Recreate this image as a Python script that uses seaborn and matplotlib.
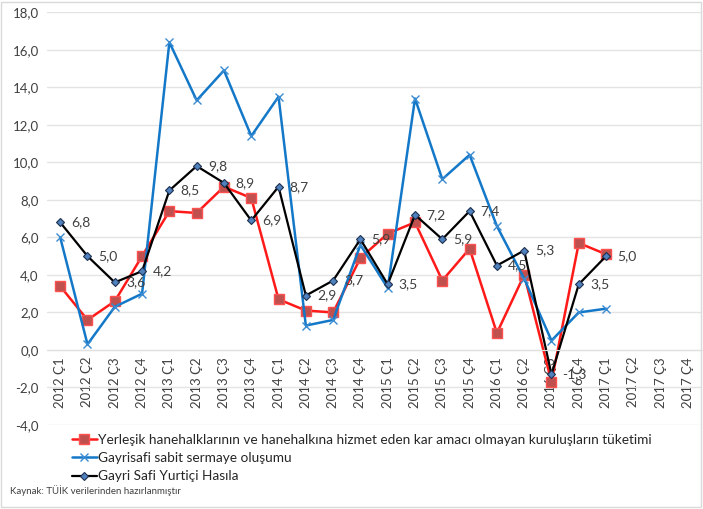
import numpy as np
import pandas as pd
import matplotlib
matplotlib.use("Agg")
import matplotlib.pyplot as plt
import seaborn as sns

# =========================
# DATA
# =========================
years = [2012, 2013, 2014, 2015, 2016, 2017]
quarter_names = ["Ç1", "Ç2", "Ç3", "Ç4"]
quarters = [f"{y} {q}" for y in years for q in quarter_names]

tuketim = [3.4, 1.6, 2.6, 5.0, 7.4, 7.3, 8.7, 8.1, 2.7, 2.1, 2.0, 4.9,
           6.2, 6.8, 3.7, 5.4, 0.9, 4.0, -1.7, 5.7, 5.1]
yatirim = [6.0, 0.3, 2.3, 3.0, 16.4, 13.3, 14.9, 11.4, 13.5, 1.3, 1.6, 5.6,
           3.3, 13.4, 9.1, 10.4, 6.6, 3.8, 0.5, 2.0, 2.2]
gsyh = [6.8, 5.0, 3.6, 4.2, 8.5, 9.8, 8.9, 6.9, 8.7, 2.9, 3.7, 5.9,
        3.5, 7.2, 5.9, 7.4, 4.5, 5.3, -1.3, 3.5, 5.0]

names = [
    "Yerleşik hanehalklarının ve hanehalkına hizmet eden kar amacı olmayan kuruluşların tüketimi",
    "Gayrisafi sabit sermaye oluşumu",
    "Gayri Safi Yurtiçi Hasıla",
]
source_text = "Kaynak: TÜİK verilerinden hazırlanmıştır"

# =========================
# STYLE
# =========================
sns.set_style("white")
plt.rcParams["font.family"] = ["Lato", "DejaVu Sans"]

fig = plt.figure(figsize=(7.03, 5.09), dpi=100)
ax = fig.add_axes([0.067, 0.165, 0.931, 0.811])

n = len(tuketim)
x = np.arange(n)

sns.lineplot(x=x, y=tuketim, ax=ax, color="#FF1A1A", lw=1.8,
             marker="s", markersize=7.5, markerfacecolor="#C0504D",
             markeredgecolor="#FF5050", markeredgewidth=1, label=names[0])
sns.lineplot(x=x, y=yatirim, ax=ax, color="#1478C8", lw=1.8,
             marker="x", markersize=6, markeredgecolor="#3C8CD2",
             markeredgewidth=1, label=names[1])
sns.lineplot(x=x, y=gsyh, ax=ax, color="black", lw=1.6,
             marker="D", markersize=4.5, markerfacecolor="#4F81BD",
             markeredgecolor="#1F3050", markeredgewidth=0.8, label=names[2])

for xi, v in zip(x, gsyh):
    ax.annotate(f"{v:.1f}".replace(".", ","), (xi, v), xytext=(8, 0),
                textcoords="offset points", ha="left", va="center",
                fontsize=10, color="#404040")

# =========================
# AXES
# =========================
ax.set_ylim(-4, 18)
ax.set_xlim(-0.48, 23.5)
yt = np.arange(-4, 18.1, 2)
ax.set_yticks(yt)
ax.set_yticklabels([f"{t:.1f}".replace(".", ",") for t in yt])
ax.set_xticks(np.arange(len(quarters)))
ax.set_xticklabels(quarters)
ax.grid(axis="y", color="#E4E4E4", lw=1)
ax.set_axisbelow(True)
for s in ["top", "right", "left"]:
    ax.spines[s].set_visible(False)
ax.spines["bottom"].set_position(("data", 0))
ax.spines["bottom"].set_color("#E0E0E0")
ax.tick_params(axis="both", length=0, labelsize=9.5, colors="#404040")
ax.tick_params(axis="x", pad=5, labelrotation=90)
ax.tick_params(axis="y", pad=6)
for lab in ax.get_xticklabels():
    lab.set_verticalalignment("top")

ax.legend(loc="upper left", bbox_to_anchor=(0.095, 0.158),
          bbox_transform=fig.transFigure, frameon=False, fontsize=9.8,
          handlelength=1.8, handletextpad=0.1, labelspacing=0.45,
          borderaxespad=0)

fig.text(0.014, 0.03, source_text, fontsize=7, color="#404040")
fig.add_artist(plt.Rectangle((0.002, 0.003), 0.995, 0.994,
                             transform=fig.transFigure, fill=False,
                             ec="#D9D9D9", lw=1))

fig.savefig("out.png", dpi=100)
